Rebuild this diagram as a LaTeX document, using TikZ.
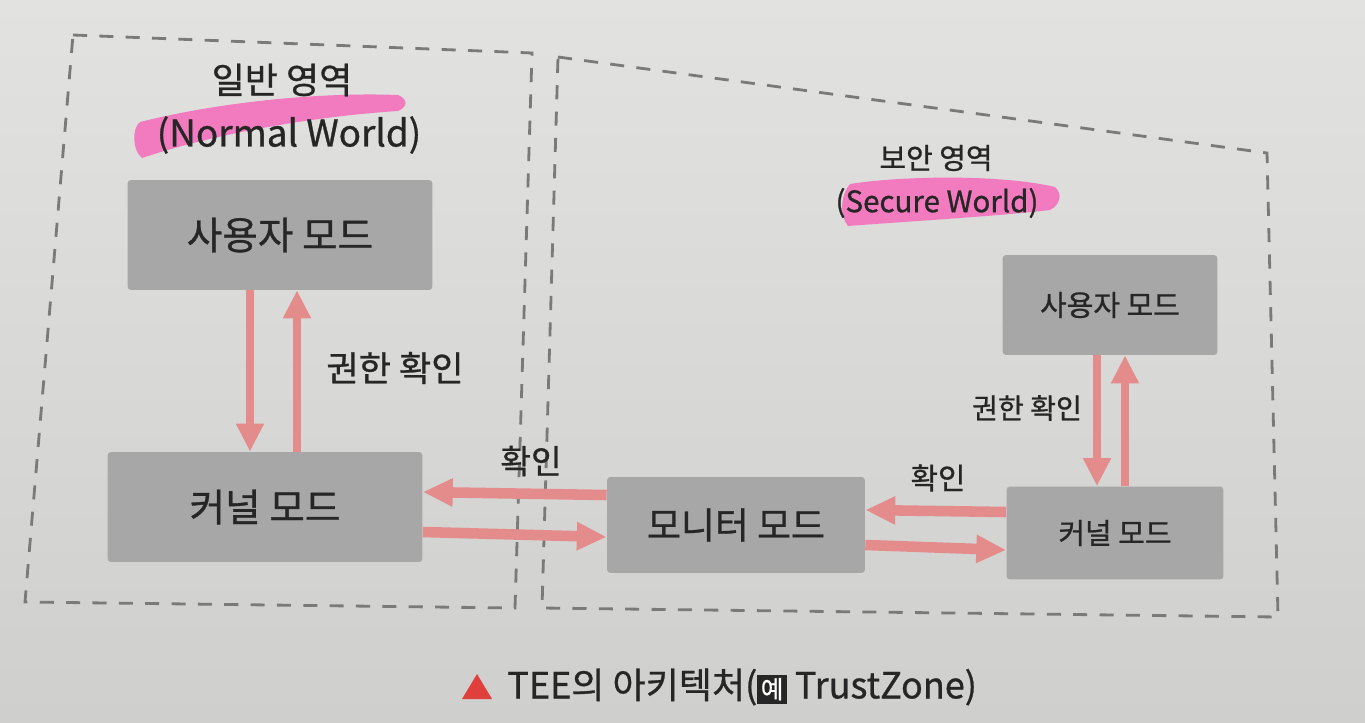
\documentclass[tikz,border=0pt]{standalone}
\usepackage{fontspec}
\setmainfont{Noto Sans CJK KR}[FakeBold=0.8]
\usetikzlibrary{arrows.meta}
\definecolor{bgtop}{HTML}{E2E2E0}
\definecolor{bgbot}{HTML}{CFCFCD}
\definecolor{boxc}{HTML}{A7A7A7}
\definecolor{txt}{HTML}{262626}
\definecolor{arrc}{HTML}{E48C8C}
\definecolor{dashc}{HTML}{7A7A7A}
\definecolor{hlc}{HTML}{F27ABF}
\definecolor{trired}{HTML}{E0403C}
\tikzset{
  modebox/.style={fill=boxc, rounded corners=2pt, text=txt, inner sep=0pt},
  worldline/.style={draw=dashc, line width=1.6pt, dash pattern=on 8pt off 7pt},
  varr/.style={draw=arrc, line width=4.5pt, -{Triangle[width=15pt,length=16pt]}},
  harr/.style={draw=arrc, line width=6pt, -{Triangle[width=15pt,length=17pt]}},
  lbl/.style={text=txt, inner sep=0pt},
  hl/.style={fill=hlc}
}
\begin{document}
\begin{tikzpicture}[x=0.02cm,y=-0.02cm]
\shade[top color=bgtop, bottom color=bgbot] (0,0) rectangle (1365,723);
\useasboundingbox (0,0) rectangle (1365,723);

% world borders
\draw[worldline] (73,35) -- (532,53) -- (515,608) -- (25,602) -- cycle;
\draw[worldline] (558,57) -- (1267,153) -- (1278,617) -- (542,608) -- cycle;

% highlights
\fill[hl] (140,122) .. controls (220,102) and (320,92) .. (398,95) .. controls (408,99) and (408,107) .. (398,111) .. controls (320,116) and (220,132) .. (142,158) .. controls (132,150) and (132,128) .. (140,122) -- cycle;
\fill[hl] (850,184) .. controls (900,176) and (1000,174) .. (1055,187) .. controls (1063,194) and (1060,205) .. (1050,210) .. controls (1000,216) and (900,222) .. (848,226) .. controls (839,215) and (841,194) .. (850,184) -- cycle;

% titles
\node[lbl, font=\fontsize{20.5pt}{22pt}\selectfont] (nt1) at (282,80) {일반 영역};
\node[lbl, font=\fontsize{21pt}{23pt}\selectfont] (nt2) at (289,135) {(Normal World)};
\node[lbl, font=\fontsize{16.5pt}{18pt}\selectfont] (st1) at (936,158) {보안 영역};
\node[lbl, font=\fontsize{16.8pt}{18pt}\selectfont] (st2) at (937,203) {(Secure World)};

% boxes
\node[modebox, minimum width=6.1cm, minimum height=2.2cm, font=\fontsize{22pt}{24pt}\selectfont] (nu) at (280,235) {사용자 모드};
\node[modebox, minimum width=6.3cm, minimum height=2.2cm, font=\fontsize{22pt}{24pt}\selectfont] (nk) at (265,507) {커널 모드};
\node[modebox, minimum width=5.16cm, minimum height=1.92cm, font=\fontsize{21pt}{23pt}\selectfont] (mon) at (736,525) {모니터 모드};
\node[modebox, minimum width=4.3cm, minimum height=2.0cm, font=\fontsize{16.5pt}{18pt}\selectfont] (su) at (1110,305) {사용자 모드};
\node[modebox, minimum width=4.34cm, minimum height=1.86cm, font=\fontsize{16.5pt}{18pt}\selectfont] (sk) at (1115,533) {커널 모드};

% guide coordinates for vertical arrows
\coordinate (xa) at (250,0);
\coordinate (xb) at (297,0);
\coordinate (xc) at (1097,0);
\coordinate (xd) at (1125,0);

% normal world vertical arrows
\draw[varr] (nu.south -| xa) -- (nk.north -| xa);
\draw[varr] (nk.north -| xb) -- (nu.south -| xb);
\node[lbl, font=\fontsize{20pt}{22pt}\selectfont] (l1) at (395,368) {권한 확인};

% normal <-> monitor
\draw[harr] ([yshift=0.6cm]mon.west) -- ([yshift=0.3cm]nk.east);
\draw[harr] ([yshift=-0.5cm]nk.east) -- ([yshift=-0.24cm]mon.west);
\node[lbl, font=\fontsize{19pt}{21pt}\selectfont] (l2) at (531,461) {확인};

% monitor <-> secure kernel
\draw[harr] ([yshift=0.42cm]sk.west) -- ([yshift=0.3cm]mon.east);
\draw[harr] ([yshift=-0.4cm]mon.east) -- ([yshift=-0.34cm]sk.west);
\node[lbl, font=\fontsize{17pt}{19pt}\selectfont] (l3) at (938,478) {확인};

% secure vertical arrows
\draw[varr] (su.south -| xc) -- (sk.north -| xc);
\draw[varr] (sk.north -| xd) -- (su.south -| xd);
\node[lbl, font=\fontsize{16pt}{18pt}\selectfont] (l4) at (1027,408) {권한 확인};

% caption
\fill[trired] (462,699) -- (492,699) -- (477,674) -- cycle;
\node[lbl, font=\fontsize{20.5pt}{22pt}\selectfont, anchor=west] (cap) at (507,687) {TEE의 아키텍처({\setlength\fboxsep{2pt}\colorbox{txt}{\color{white}\fontsize{14pt}{15pt}\selectfont 예}} TrustZone)};
\end{tikzpicture}
\end{document}
